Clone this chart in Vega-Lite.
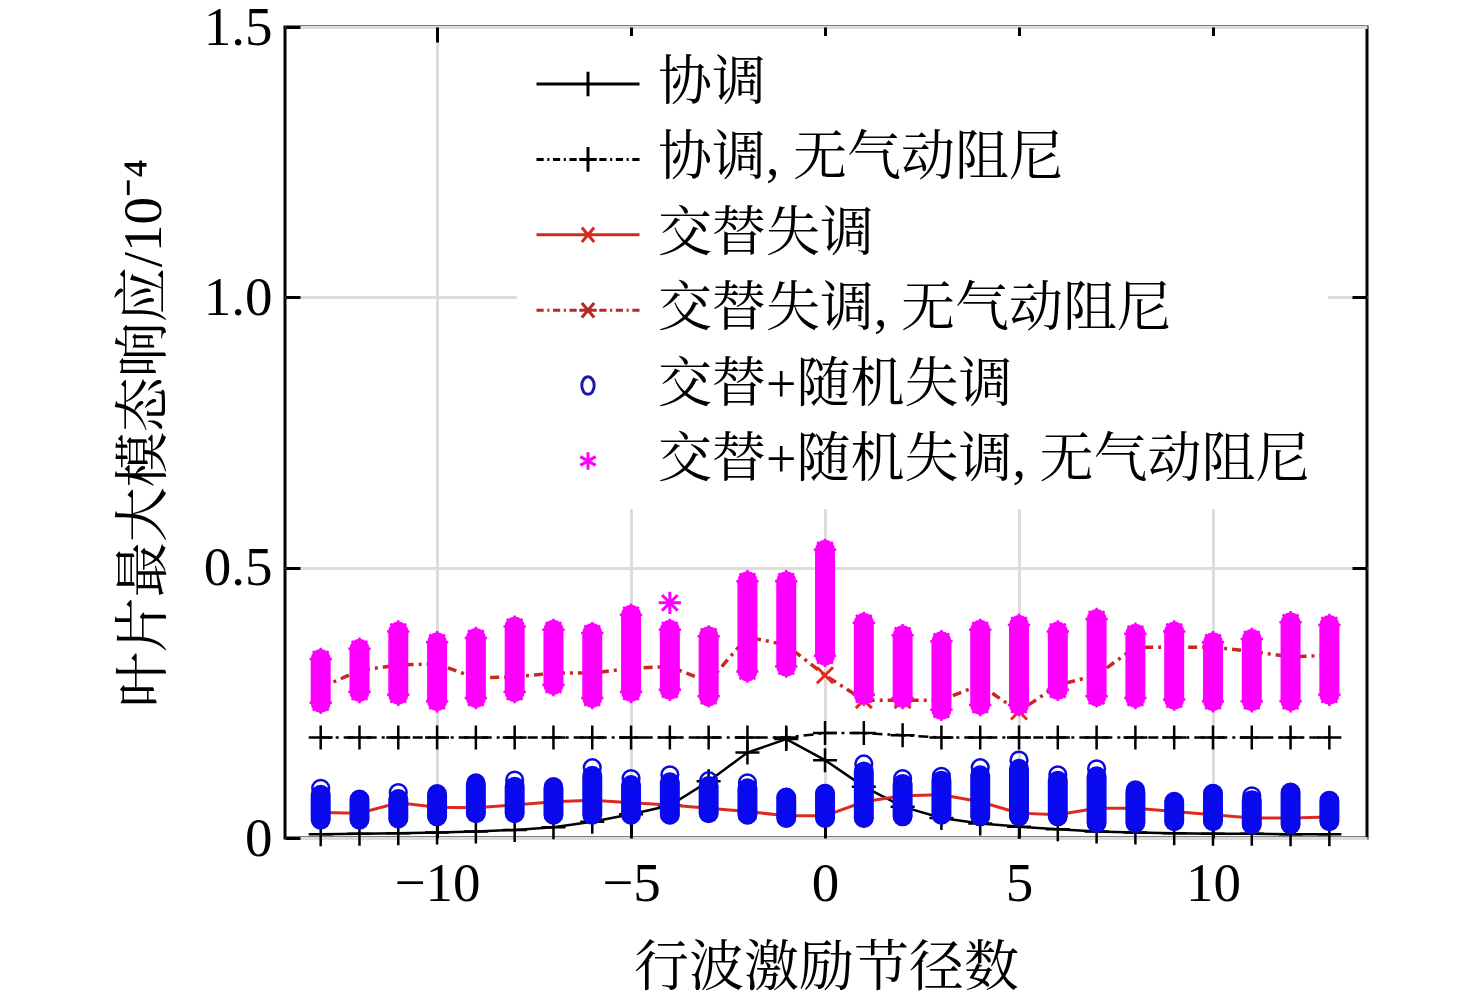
{
  "$schema": "https://vega.github.io/schema/vega-lite/v6.json",
  "autosize": "none",
  "width": 1082,
  "height": 811,
  "padding": {"left": 285, "top": 27, "right": 109, "bottom": 164},
  "background": "white",
  "config": {
    "view": {"stroke": "black", "strokeWidth": 3},
    "axis": {
      "labelFont": "Liberation Serif",
      "labelFontSize": 55,
      "labelColor": "black",
      "titleFont": "'Liberation Serif', 'Noto Serif CJK SC', 'Noto Sans CJK SC'",
      "titleFontSize": 55,
      "titleFontWeight": "normal",
      "titleColor": "black",
      "domain": false,
      "tickColor": "black",
      "tickWidth": 3,
      "gridColor": "#dcdcdc",
      "gridWidth": 3,
      "gridOpacity": 1
    }
  },
  "datasets": {
    "lines": [
      {"nd": -13, "tuned": 0.007, "tunedNA": 0.186, "alt": 0.047, "altNA": 0.278},
      {"nd": -12, "tuned": 0.008, "tunedNA": 0.186, "alt": 0.046, "altNA": 0.310},
      {"nd": -11, "tuned": 0.009, "tunedNA": 0.186, "alt": 0.065, "altNA": 0.320},
      {"nd": -10, "tuned": 0.010, "tunedNA": 0.186, "alt": 0.057, "altNA": 0.322},
      {"nd": -9, "tuned": 0.012, "tunedNA": 0.186, "alt": 0.056, "altNA": 0.296},
      {"nd": -8, "tuned": 0.015, "tunedNA": 0.186, "alt": 0.061, "altNA": 0.298},
      {"nd": -7, "tuned": 0.020, "tunedNA": 0.186, "alt": 0.067, "altNA": 0.305},
      {"nd": -6, "tuned": 0.030, "tunedNA": 0.186, "alt": 0.070, "altNA": 0.305},
      {"nd": -5, "tuned": 0.044, "tunedNA": 0.186, "alt": 0.065, "altNA": 0.314},
      {"nd": -4, "tuned": 0.060, "tunedNA": 0.186, "alt": 0.061, "altNA": 0.317},
      {"nd": -3, "tuned": 0.105, "tunedNA": 0.186, "alt": 0.055, "altNA": 0.289},
      {"nd": -2, "tuned": 0.158, "tunedNA": 0.186, "alt": 0.049, "altNA": 0.372},
      {"nd": -1, "tuned": 0.183, "tunedNA": 0.186, "alt": 0.041, "altNA": 0.357},
      {"nd": 0, "tuned": 0.144, "tunedNA": 0.194, "alt": 0.041, "altNA": 0.301},
      {"nd": 1, "tuned": 0.095, "tunedNA": 0.194, "alt": 0.067, "altNA": 0.255},
      {"nd": 2, "tuned": 0.058, "tunedNA": 0.190, "alt": 0.078, "altNA": 0.255},
      {"nd": 3, "tuned": 0.037, "tunedNA": 0.186, "alt": 0.080, "altNA": 0.255},
      {"nd": 4, "tuned": 0.027, "tunedNA": 0.186, "alt": 0.067, "altNA": 0.283},
      {"nd": 5, "tuned": 0.021, "tunedNA": 0.186, "alt": 0.046, "altNA": 0.234},
      {"nd": 6, "tuned": 0.016, "tunedNA": 0.186, "alt": 0.043, "altNA": 0.283},
      {"nd": 7, "tuned": 0.012, "tunedNA": 0.186, "alt": 0.055, "altNA": 0.301},
      {"nd": 8, "tuned": 0.010, "tunedNA": 0.186, "alt": 0.055, "altNA": 0.353},
      {"nd": 9, "tuned": 0.009, "tunedNA": 0.186, "alt": 0.049, "altNA": 0.353},
      {"nd": 10, "tuned": 0.008, "tunedNA": 0.186, "alt": 0.043, "altNA": 0.353},
      {"nd": 11, "tuned": 0.008, "tunedNA": 0.186, "alt": 0.037, "altNA": 0.345},
      {"nd": 12, "tuned": 0.007, "tunedNA": 0.186, "alt": 0.037, "altNA": 0.335},
      {"nd": 13, "tuned": 0.007, "tunedNA": 0.186, "alt": 0.039, "altNA": 0.338}
    ],
    "blue": [
      {"nd": -13, "lo": 0.034, "core": 0.080, "hi": 0.092},
      {"nd": -12, "lo": 0.034, "core": 0.071, "hi": 0.071},
      {"nd": -11, "lo": 0.036, "core": 0.072, "hi": 0.084},
      {"nd": -10, "lo": 0.040, "core": 0.080, "hi": 0.082},
      {"nd": -9, "lo": 0.046, "core": 0.098, "hi": 0.102},
      {"nd": -8, "lo": 0.046, "core": 0.095, "hi": 0.107},
      {"nd": -7, "lo": 0.043, "core": 0.092, "hi": 0.095},
      {"nd": -6, "lo": 0.043, "core": 0.115, "hi": 0.130},
      {"nd": -5, "lo": 0.043, "core": 0.098, "hi": 0.110},
      {"nd": -4, "lo": 0.043, "core": 0.103, "hi": 0.117},
      {"nd": -3, "lo": 0.046, "core": 0.096, "hi": 0.106},
      {"nd": -2, "lo": 0.043, "core": 0.092, "hi": 0.102},
      {"nd": -1, "lo": 0.037, "core": 0.075, "hi": 0.075},
      {"nd": 0, "lo": 0.037, "core": 0.082, "hi": 0.082},
      {"nd": 1, "lo": 0.037, "core": 0.123, "hi": 0.137},
      {"nd": 2, "lo": 0.040, "core": 0.100, "hi": 0.110},
      {"nd": 3, "lo": 0.043, "core": 0.106, "hi": 0.114},
      {"nd": 4, "lo": 0.040, "core": 0.116, "hi": 0.130},
      {"nd": 5, "lo": 0.040, "core": 0.128, "hi": 0.144},
      {"nd": 6, "lo": 0.040, "core": 0.106, "hi": 0.117},
      {"nd": 7, "lo": 0.028, "core": 0.114, "hi": 0.128},
      {"nd": 8, "lo": 0.028, "core": 0.084, "hi": 0.089},
      {"nd": 9, "lo": 0.031, "core": 0.067, "hi": 0.067},
      {"nd": 10, "lo": 0.031, "core": 0.082, "hi": 0.082},
      {"nd": 11, "lo": 0.025, "core": 0.070, "hi": 0.078},
      {"nd": 12, "lo": 0.025, "core": 0.084, "hi": 0.084},
      {"nd": 13, "lo": 0.031, "core": 0.069, "hi": 0.069}
    ],
    "magenta": [
      {"nd": -13, "lo": 0.250, "hi": 0.331},
      {"nd": -12, "lo": 0.270, "hi": 0.350},
      {"nd": -11, "lo": 0.265, "hi": 0.382},
      {"nd": -10, "lo": 0.253, "hi": 0.362},
      {"nd": -9, "lo": 0.259, "hi": 0.370},
      {"nd": -8, "lo": 0.270, "hi": 0.391},
      {"nd": -7, "lo": 0.283, "hi": 0.385},
      {"nd": -6, "lo": 0.259, "hi": 0.379},
      {"nd": -5, "lo": 0.270, "hi": 0.413},
      {"nd": -4, "lo": 0.274, "hi": 0.385},
      {"nd": -3, "lo": 0.262, "hi": 0.373},
      {"nd": -2, "lo": 0.308, "hi": 0.475},
      {"nd": -1, "lo": 0.317, "hi": 0.475},
      {"nd": 0, "lo": 0.337, "hi": 0.533},
      {"nd": 1, "lo": 0.265, "hi": 0.398},
      {"nd": 2, "lo": 0.259, "hi": 0.375},
      {"nd": 3, "lo": 0.237, "hi": 0.364},
      {"nd": 4, "lo": 0.246, "hi": 0.385},
      {"nd": 5, "lo": 0.246, "hi": 0.394},
      {"nd": 6, "lo": 0.274, "hi": 0.382},
      {"nd": 7, "lo": 0.262, "hi": 0.405},
      {"nd": 8, "lo": 0.259, "hi": 0.378},
      {"nd": 9, "lo": 0.256, "hi": 0.382},
      {"nd": 10, "lo": 0.253, "hi": 0.362},
      {"nd": 11, "lo": 0.253, "hi": 0.368},
      {"nd": 12, "lo": 0.253, "hi": 0.399},
      {"nd": 13, "lo": 0.265, "hi": 0.394}
    ],
    "magentaOutliers": [
      {"nd": -4, "value": 0.435}
    ],
    "legend": [
      {"series": "协调"},
      {"series": "协调, 无气动阻尼"},
      {"series": "交替失调"},
      {"series": "交替失调, 无气动阻尼"},
      {"series": "交替+随机失调"},
      {"series": "交替+随机失调, 无气动阻尼"}
    ]
  },
  "resolve": {"axis": {"x": "independent", "y": "independent"}},
  "layer": [
    {
      "data": {"name": "lines"},
      "mark": {"type": "line", "color": "black", "strokeWidth": 2.5},
      "encoding": {
        "x": {"field": "nd", "type": "quantitative",
          "scale": {"domain": [-13.92, 13.97], "nice": false, "zero": false},
          "axis": {"orient": "bottom", "values": [-10, -5, 0, 5, 10], "format": "d", "tickSize": -15, "labelPadding": 34, "grid": true, "title": "行波激励节径数", "titlePadding": 30}},
        "y": {"field": "tuned", "type": "quantitative",
          "scale": {"domain": [0, 1.5], "nice": false},
          "axis": {"orient": "left", "values": [0, 0.5, 1.0, 1.5], "labelExpr": "datum.value == 0 ? '0' : format(datum.value, '.1f')", "tickSize": -15, "labelPadding": 28, "grid": true, "title": "叶片最大模态响应/10⁻⁴", "titlePadding": 31}}
      }
    },
    {
      "data": {"name": "lines"},
      "mark": {"type": "point", "shape": "M-1,0L1,0M0,-1L0,1", "size": 576, "filled": false, "color": "black", "strokeWidth": 2.5, "opacity": 1},
      "encoding": {
        "x": {"field": "nd", "type": "quantitative", "axis": null},
        "y": {"field": "tuned", "type": "quantitative", "axis": null}
      }
    },
    {
      "data": {"name": "lines"},
      "mark": {"type": "line", "color": "black", "strokeWidth": 2.5, "strokeDash": [10, 5, 3, 5]},
      "encoding": {
        "x": {"field": "nd", "type": "quantitative",
          "axis": {"orient": "top", "values": [-10, -5, 0, 5, 10], "labels": false, "tickSize": -15, "grid": false, "title": null}},
        "y": {"field": "tunedNA", "type": "quantitative",
          "axis": {"orient": "right", "values": [0.5, 1.0], "labels": false, "tickSize": -15, "grid": false, "title": null}}
      }
    },
    {
      "data": {"name": "lines"},
      "mark": {"type": "point", "shape": "M-1,0L1,0M0,-1L0,1", "size": 576, "filled": false, "color": "black", "strokeWidth": 2.5, "opacity": 1},
      "encoding": {
        "x": {"field": "nd", "type": "quantitative", "axis": null},
        "y": {"field": "tunedNA", "type": "quantitative", "axis": null}
      }
    },
    {
      "data": {"name": "lines"},
      "mark": {"type": "line", "color": "#dc2a20", "strokeWidth": 3},
      "encoding": {
        "x": {"field": "nd", "type": "quantitative", "axis": null},
        "y": {"field": "alt", "type": "quantitative", "axis": null}
      }
    },
    {
      "data": {"name": "lines"},
      "mark": {"type": "point", "shape": "M-1,-1L1,1M-1,1L1,-1", "size": 196, "filled": false, "color": "#dc2a20", "strokeWidth": 2.5, "opacity": 1},
      "encoding": {
        "x": {"field": "nd", "type": "quantitative", "axis": null},
        "y": {"field": "alt", "type": "quantitative", "axis": null}
      }
    },
    {
      "data": {"name": "lines"},
      "mark": {"type": "line", "color": "#c8281e", "strokeWidth": 3.5, "strokeDash": [9, 5, 3, 5]},
      "encoding": {
        "x": {"field": "nd", "type": "quantitative", "axis": null},
        "y": {"field": "altNA", "type": "quantitative", "axis": null}
      }
    },
    {
      "data": {"name": "lines"},
      "mark": {"type": "point", "shape": "M-1,-1L1,1M-1,1L1,-1", "size": 256, "filled": false, "color": "#e02a20", "strokeWidth": 3, "opacity": 1},
      "encoding": {
        "x": {"field": "nd", "type": "quantitative", "axis": null},
        "y": {"field": "altNA", "type": "quantitative", "axis": null}
      }
    },
    {
      "data": {"name": "blue"},
      "mark": {"type": "rule", "color": "#0a0af0", "strokeWidth": 20, "strokeCap": "round"},
      "encoding": {
        "x": {"field": "nd", "type": "quantitative", "axis": null},
        "y": {"field": "lo", "type": "quantitative", "axis": null},
        "y2": {"field": "core"}
      }
    },
    {
      "data": {"name": "blue"},
      "mark": {"type": "point", "shape": "circle", "size": 280, "filled": false, "color": "#0a0ae0", "strokeWidth": 2.5, "opacity": 1},
      "encoding": {
        "x": {"field": "nd", "type": "quantitative", "axis": null},
        "y": {"field": "hi", "type": "quantitative", "axis": null}
      }
    },
    {
      "data": {"name": "blue"},
      "mark": {"type": "point", "shape": "circle", "size": 280, "filled": false, "color": "#0a0ae0", "strokeWidth": 2.5, "opacity": 1},
      "encoding": {
        "x": {"field": "nd", "type": "quantitative", "axis": null},
        "y": {"field": "lo", "type": "quantitative", "axis": null}
      }
    },
    {
      "data": {"name": "magenta"},
      "mark": {"type": "rule", "color": "#ff00ff", "strokeWidth": 20, "strokeCap": "round"},
      "encoding": {
        "x": {"field": "nd", "type": "quantitative", "axis": null},
        "y": {"field": "lo", "type": "quantitative", "axis": null},
        "y2": {"field": "hi"}
      }
    },
    {
      "data": {"name": "magenta"},
      "mark": {"type": "point", "shape": "M0,-1L0,1M-1,0L1,0M-0.7,-0.7L0.7,0.7M-0.7,0.7L0.7,-0.7", "size": 500, "filled": false, "color": "#ff00ff", "strokeWidth": 2.5, "opacity": 1},
      "encoding": {
        "x": {"field": "nd", "type": "quantitative", "axis": null},
        "y": {"field": "hi", "type": "quantitative", "axis": null}
      }
    },
    {
      "data": {"name": "magenta"},
      "mark": {"type": "point", "shape": "M0,-1L0,1M-1,0L1,0M-0.7,-0.7L0.7,0.7M-0.7,0.7L0.7,-0.7", "size": 500, "filled": false, "color": "#ff00ff", "strokeWidth": 2.5, "opacity": 1},
      "encoding": {
        "x": {"field": "nd", "type": "quantitative", "axis": null},
        "y": {"field": "lo", "type": "quantitative", "axis": null}
      }
    },
    {
      "data": {"name": "magentaOutliers"},
      "mark": {"type": "point", "shape": "M0,-1L0,1M-1,0L1,0M-0.7,-0.7L0.7,0.7M-0.7,0.7L0.7,-0.7", "size": 500, "filled": false, "color": "#ff00ff", "strokeWidth": 3, "opacity": 1},
      "encoding": {
        "x": {"field": "nd", "type": "quantitative", "axis": null},
        "y": {"field": "value", "type": "quantitative", "axis": null}
      }
    },
    {
      "data": {"name": "legend"},
      "mark": {"type": "point", "filled": false, "clip": true, "strokeWidth": 3, "opacity": 1},
      "encoding": {
        "x": {"datum": 0, "type": "quantitative", "axis": null},
        "y": {"datum": -1, "type": "quantitative", "axis": null},
        "color": {"field": "series", "type": "nominal",
          "scale": {"domain": ["协调", "协调, 无气动阻尼", "交替失调", "交替失调, 无气动阻尼", "交替+随机失调", "交替+随机失调, 无气动阻尼"],
                    "range": ["black", "black", "#d42a20", "#b8282a", "#1a1aa8", "#ff00ff"]},
          "legend": {"orient": "none", "legendX": 232, "legendY": 9, "title": null, "symbolSize": 10609, "symbolStrokeWidth": 3, "clipHeight": 60, "rowPadding": 15.4, "labelFont": "'Liberation Serif', 'Noto Serif CJK SC', 'Noto Sans CJK SC'", "labelFontSize": 54, "labelColor": "black", "labelOffset": 17, "labelLimit": 2000, "fillColor": "white", "padding": 18}},
        "shape": {"field": "series", "type": "nominal",
          "scale": {"domain": ["协调", "协调, 无气动阻尼", "交替失调", "交替失调, 无气动阻尼", "交替+随机失调", "交替+随机失调, 无气动阻尼"],
                    "range": [
                      "M-1,0L1,0M0,-0.24L0,0.24",
                      "M-1,0L-0.86,0M-0.79,0L-0.75,0M-0.68,0L-0.54,0M-0.47,0L-0.43,0M-0.36,0L-0.22,0M-0.17,0L0.17,0M0,-0.24L0,0.24M0.22,0L0.36,0M0.43,0L0.47,0M0.54,0L0.68,0M0.75,0L0.79,0M0.86,0L1,0",
                      "M-1,0L1,0M-0.12,-0.14L0.12,0.14M-0.12,0.14L0.12,-0.14",
                      "M-1,0L-0.86,0M-0.79,0L-0.75,0M-0.68,0L-0.54,0M-0.47,0L-0.43,0M-0.36,0L-0.22,0M-0.17,0L0.17,0M-0.12,-0.14L0.12,0.14M-0.12,0.14L0.12,-0.14M0.22,0L0.36,0M0.43,0L0.47,0M0.54,0L0.68,0M0.75,0L0.79,0M0.86,0L1,0",
                      "M0.12,0A0.12,0.17 0 1,1 -0.12,0A0.12,0.17 0 1,1 0.12,0Z",
                      "M0,-0.17L0,0.17M-0.15,-0.085L0.15,0.085M-0.15,0.085L0.15,-0.085"
                    ]},
          "legend": {"orient": "none", "legendX": 232, "legendY": 9, "title": null, "symbolSize": 10609, "symbolStrokeWidth": 3, "clipHeight": 60, "rowPadding": 15.4, "labelFont": "'Liberation Serif', 'Noto Serif CJK SC', 'Noto Sans CJK SC'", "labelFontSize": 54, "labelColor": "black", "labelOffset": 17, "labelLimit": 2000, "fillColor": "white", "padding": 18}}
      }
    }
  ]
}
